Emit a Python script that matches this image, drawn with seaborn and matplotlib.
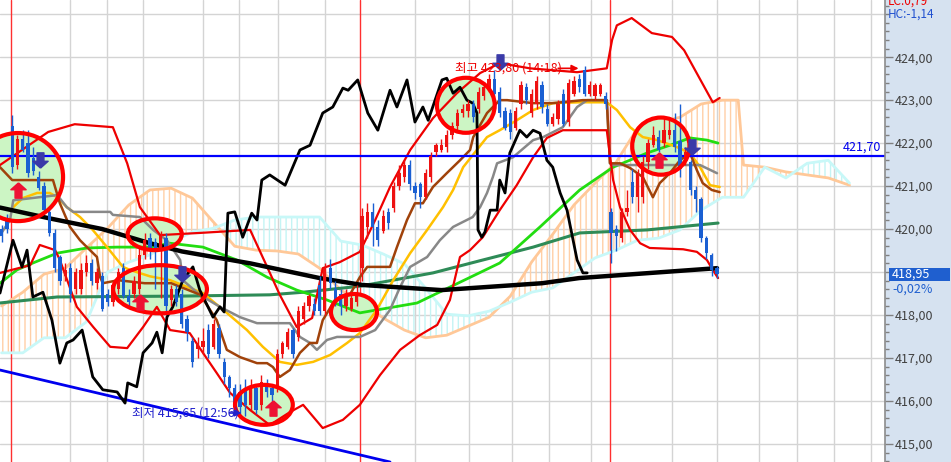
import matplotlib
matplotlib.use("Agg")
import matplotlib.pyplot as plt
from matplotlib.patches import Ellipse, Rectangle
import seaborn as sns

# ---- candles (one per bar, bar index 0..135) ----
opens = [420.0, 420.25, 422.4, 421.5, 422.1, 422.0, 421.65, 421.2, 421.0, 420.4,
         419.9, 419.35, 418.9, 419.1, 418.6, 418.6, 419.0, 419.2, 418.75, 418.9,
         418.5, 418.3, 418.6, 419.1, 418.45, 418.5, 418.6, 419.4, 419.8, 419.7,
         419.5, 419.8, 418.35, 418.6, 418.5, 417.9, 417.4, 417.2, 417.25, 417.65,
         417.25, 417.7, 416.9, 416.55, 416.3, 416.2, 416.3, 415.9, 416.3, 415.9,
         416.4, 416.3, 416.3, 417.1, 417.25, 417.65, 417.5, 417.9, 418.2, 418.25,
         418.7, 418.1, 419.1, 418.6, 418.5, 418.2, 418.15, 418.3, 419.1, 420.05,
         420.4, 420.05, 419.95, 420.4, 420.5, 421.0, 421.2, 421.5, 421.0, 421.05,
         420.75, 421.2, 421.8, 421.85, 421.9, 422.2, 422.4, 422.7, 422.75, 422.9,
         422.8, 423.1, 423.25, 423.5, 423.2, 422.75, 422.7, 422.35, 422.9, 423.3,
         422.7, 422.9, 423.35, 422.8, 422.45, 422.55, 423.15, 422.5, 423.15, 423.5,
         423.7, 423.15, 423.1, 423.15, 423.1, 420.4, 420.0, 419.8, 420.4, 421.1,
         420.75, 420.75, 421.55, 421.95, 422.15, 422.0, 422.2, 422.3, 422.05, 421.6,
         421.55, 420.9, 420.7, 419.8, 419.4, 419.1]
closes = [419.85, 420.0, 421.45, 422.1, 421.85, 421.3, 421.35, 420.95, 420.45, 419.9,
          419.1, 418.8, 419.05, 418.5, 419.0, 419.05, 419.2, 418.8, 419.0, 418.15,
          418.3, 418.7, 419.0, 418.45, 418.3, 418.8, 419.4, 419.75, 419.5, 419.5,
          419.85, 418.2, 418.6, 418.3, 417.8, 417.6, 416.9, 417.35, 417.4, 417.1,
          417.8, 417.1, 416.55, 416.3, 415.85, 415.85, 415.9, 416.35, 415.8, 416.45,
          416.2, 416.15, 417.1, 417.35, 417.6, 417.1, 418.1, 418.2, 418.45, 418.1,
          418.1, 419.1, 418.75, 418.35, 418.2, 418.5, 418.4, 418.5, 420.3, 420.4,
          420.05, 419.75, 420.3, 420.15, 421.0, 421.3, 421.5, 421.05, 420.85, 420.75,
          421.3, 421.7, 421.95, 421.95, 422.2, 422.4, 422.7, 422.8, 422.9, 422.6,
          423.2, 423.3, 423.5, 423.15, 422.7, 422.35, 422.25, 422.75, 423.35, 423.0,
          423.15, 423.45, 422.85, 422.45, 422.6, 422.9, 422.45, 423.4, 423.45, 423.3,
          423.15, 423.35, 423.35, 423.35, 422.9, 419.9, 419.85, 420.4, 420.5, 420.75,
          421.3, 421.55, 422.0, 422.2, 421.85, 422.3, 422.3, 421.9, 421.4, 421.8,
          420.9, 420.7, 419.8, 419.45, 419.05, 418.95]
highs = [420.1, 420.35, 422.65, 422.2, 422.3, 422.3, 421.9, 421.35, 421.1, 420.5,
         420.0, 419.4, 419.2, 419.2, 419.1, 419.2, 419.4, 419.3, 419.1, 419.0,
         418.6, 418.8, 419.1, 419.2, 418.6, 418.9, 419.6, 419.9, 419.9, 419.8,
         419.95, 419.9, 418.7, 418.7, 418.6, 418.0, 417.5, 417.5, 417.7, 417.8,
         417.9, 417.8, 417.0, 416.6, 416.4, 416.4, 416.5, 416.5, 416.4, 416.6,
         416.5, 416.4, 417.2, 417.4, 417.7, 417.7, 418.2, 418.3, 418.5, 418.4,
         418.9, 419.2, 419.3, 418.8, 418.6, 418.6, 418.5, 418.7, 420.5, 420.6,
         420.6, 420.2, 420.45, 420.5, 421.1, 421.5, 421.6, 421.6, 421.1, 421.1,
         421.4, 421.8, 422.0, 422.1, 422.3, 422.5, 422.8, 422.9, 423.0, 423.0,
         423.3, 423.4, 423.6, 423.7, 423.3, 422.85, 422.8, 422.85, 423.45, 423.4,
         423.25, 423.55, 423.45, 422.9, 422.7, 423.0, 423.25, 423.5, 423.55, 423.6,
         423.8, 423.45, 423.4, 423.4, 423.2, 420.5, 420.1, 420.5, 420.9, 421.4,
         421.4, 421.7, 422.1, 422.4, 422.3, 422.6, 422.6, 422.7, 422.9, 421.9,
         421.6, 421.0, 420.75, 419.85, 419.45, 419.15]
lows = [419.7, 419.9, 421.3, 421.4, 421.8, 421.2, 421.25, 420.9, 420.4, 419.85,
        419.0, 418.7, 418.8, 418.3, 418.5, 418.5, 418.9, 418.7, 418.6, 418.1,
        418.2, 418.2, 418.5, 418.4, 418.2, 418.4, 418.5, 419.3, 419.3, 418.6,
        418.4, 418.1, 418.2, 418.2, 417.7, 417.4, 416.8, 417.0, 417.1, 417.0,
        417.2, 417.0, 416.4, 416.1, 415.75, 415.7, 415.65, 415.8, 415.7, 415.8,
        416.1, 416.0, 416.2, 417.0, 417.2, 417.0, 417.4, 417.8, 418.1, 418.0,
        418.0, 418.0, 418.6, 418.2, 418.0, 418.1, 418.1, 418.2, 418.8, 419.8,
        419.6, 419.6, 419.9, 420.0, 420.4, 420.9, 421.1, 420.9, 420.7, 420.5,
        420.7, 421.1, 421.7, 421.8, 421.8, 422.1, 422.3, 422.6, 422.6, 422.5,
        422.7, 423.0, 423.2, 423.1, 422.6, 422.3, 422.1, 422.3, 422.8, 422.9,
        422.6, 422.8, 422.7, 422.4, 422.4, 422.45, 422.4, 422.4, 423.1, 423.2,
        423.1, 423.1, 423.0, 423.1, 422.8, 419.2, 419.5, 419.7, 420.3, 420.6,
        420.4, 420.6, 421.4, 421.9, 421.8, 421.9, 422.1, 421.8, 421.2, 421.5,
        420.8, 420.4, 419.7, 419.3, 418.9, 418.85]

# ---- indicator lines: (bar index, price) ----
ma_long_x = [-0.3, 9, 19, 28, 34, 47, 60, 68, 83, 102, 109, 135]
ma_long_y = [420.5, 420.25, 420.0, 419.67, 419.48, 419.2, 418.86, 418.7, 418.58, 418.74, 418.86, 419.09]

index_x = [-0.3, 2.15, 3.85, 4.8, 5.9, 7.8, 9.5, 11.0, 12.3, 13.5, 15.2, 17.2, 19.1, 21.8, 23.3,
           23.8, 25.5, 26.7, 28.4, 29.3, 30.3, 31.2, 32.3, 34.2, 36.1, 37.4, 39.9, 41.2, 42.0,
           42.7, 44.0, 45.5, 47.2, 48.2, 49.1, 50.6, 53.5, 56.3, 58.2, 60.6, 62.5, 64.4, 65.4,
           67.2, 69.1, 71.0, 73.3, 74.6, 76.5, 78.0, 79.5, 80.5, 83.1, 84.0, 85.2, 86.5, 87.8,
           88.9, 89.7, 89.9, 90.6, 91.2, 92.2, 93.5, 94.0, 95.0, 95.9, 97.8, 99.1, 100.3, 101.6,
           102.9, 104.0, 105.4, 106.7, 108.6, 109.7, 110.5]
index_y = [418.51, 419.74, 419.12, 419.51, 418.42, 418.53, 417.88, 416.88, 417.35, 417.42, 417.65,
           416.56, 416.26, 416.21, 415.95, 416.42, 416.33, 417.12, 417.35, 417.6, 417.12, 417.95,
           418.19, 418.81, 419.12, 418.58, 417.95, 418.19, 418.07, 420.37, 420.4, 419.81, 420.37,
           420.21, 421.14, 421.26, 421.02, 421.84, 421.95, 422.7, 422.84, 423.28, 423.23, 423.47,
           422.7, 422.3, 423.23, 422.84, 423.47, 422.49, 422.84, 422.53, 423.47, 423.51, 423.16,
           423.3, 423.0, 422.93, 422.7, 419.98, 419.81, 419.93, 420.44, 420.44, 421.14, 420.84,
           421.77, 422.3, 422.14, 422.3, 422.23, 421.6, 421.44, 420.84, 420.44, 419.28, 418.98,
           418.98]

ma60_x = [-0.3, 2.9, 5.9, 10.5, 16.1, 21.8, 28, 31.8, 38, 44.4, 50.1, 55.7, 61.4, 67.6, 78.4,
          84.6, 94.0, 101.6, 109.1, 115.4, 121.8, 126.1, 129.9, 133.1, 135.2]
ma60_y = [418.74, 419.05, 419.21, 419.44, 419.56, 419.58, 419.58, 419.67, 419.58, 419.28, 418.88,
          418.58, 418.35, 418.05, 418.28, 418.65, 419.21, 420.05, 420.91, 421.44, 421.77, 421.95,
          422.12, 422.07, 422.0]

ma120_x = [-0.3, 10.5, 33.7, 50.6, 56.9, 67.6, 81.4, 90.8, 100.3, 109.1, 121.8, 135.2]
ma120_y = [418.28, 418.42, 418.44, 418.47, 418.53, 418.67, 418.98, 419.28, 419.58, 419.91, 419.98, 420.14]

ma20_x = [2.2, 4.0, 6.7, 9.1, 10.5, 12.3, 14.8, 17.2, 19.9, 22.9, 24.2, 28, 31.8, 38, 42.5, 46.3,
          49.3, 52.5, 55.7, 58.8, 62, 65.2, 67.6, 70.8, 73.9, 77.1, 80.3, 83.3, 85.2, 87.1, 91.6,
          94, 97.2, 100.3, 104, 109.1, 114.2, 116.1, 118.6, 121, 123.7, 127.4, 129.9, 131.8,
          133.7, 135.5]
ma20_y = [420.51, 420.72, 420.84, 420.84, 420.74, 420.51, 420.28, 419.98, 419.58, 419.12, 419.05,
          418.9, 418.81, 418.51, 418.05, 417.65, 417.26, 416.91, 416.84, 416.91, 417.07, 417.35,
          417.58, 418.12, 418.81, 419.44, 419.98, 420.51, 420.91, 421.44, 422.14, 422.3, 422.53,
          422.77, 422.93, 422.95, 422.95, 422.77, 422.37, 422.14, 422.07, 421.91, 421.77, 421.44,
          421.02, 420.98]

ma5_x = [-0.3, 2, 9.7, 11, 12.9, 14.8, 16.1, 18, 18.6, 19.1, 22, 27, 32, 37.5, 40.6, 42.5, 45,
         48.2, 50.1, 51.2, 52.5, 54.4, 56.3, 58.2, 59.5, 60.6, 62.9, 65.7, 67.6, 69, 73.3, 74.6,
         76.5, 78, 79.5, 81.4, 84, 86.5, 88.4, 89, 91.6, 94, 95.4, 100.3, 104, 109.7, 114.2,
         114.8, 116.7, 118.6, 121, 122.9, 124.2, 126.1, 128, 129.9, 131.2, 132.3, 134, 135.5]
ma5_y = [421.44, 421.14, 421.14, 420.6, 420.05, 419.74, 419.58, 419.35, 418.88, 418.74, 418.81,
         418.74, 418.74, 418.47, 417.88, 417.19, 417.02, 416.88, 416.88, 416.79, 416.56, 416.72,
         417.12, 417.35, 417.35, 417.88, 418.35, 418.47, 418.88, 419.12, 419.12, 419.58, 420.21,
         420.6, 420.6, 420.98, 421.3, 421.6, 421.84, 422.14, 422.7, 423.0, 423.0, 422.93, 422.93,
         423.0, 423.0, 421.53, 421.53, 421.42, 421.21, 420.74, 421.07, 421.3, 421.6, 421.77,
         421.37, 421.07, 420.91, 420.86]

base_x = [-0.3, 1.6, 2.2, 10.5, 12.3, 13.5, 20.5, 21, 26.1, 28.6, 31.2, 33.7, 34.2, 37.4, 41.2,
          45, 48.2, 54.4, 56.3, 58.2, 59.5, 61.4, 63.3, 67.6, 70.5, 73.3, 75.2, 77.1, 80.3, 82.7,
          85.2, 88.9, 90.3, 91.6, 92.7, 93.5, 96.5, 100.3, 102.2, 105.9, 108.6, 110.5, 114.2,
          114.8, 115.4, 131.8, 135]
base_y = [419.86, 420.21, 420.67, 420.79, 420.51, 420.4, 420.4, 420.33, 420.28, 419.98, 419.74,
          419.28, 418.81, 418.47, 418.19, 417.95, 417.81, 417.81, 417.49, 417.35, 417.19, 417.42,
          417.49, 417.49, 417.65, 418.12, 418.65, 419.12, 419.35, 419.74, 420.05, 420.28, 420.51,
          420.84, 421.21, 421.53, 421.67, 422.07, 422.14, 422.37, 422.84, 423.0, 423.0, 421.53,
          421.49, 421.49, 421.3]

bb_up_x = [-0.3, 8.8, 13.8, 21.0, 23.7, 26.1, 29.9, 37.4, 46.9, 49.7, 52.5, 55.7, 58.6, 60.6,
           63.8, 67.6, 70.5, 73.3, 77.1, 81.4, 85.9, 90.3, 94.0, 99.7, 108.6, 114.2, 115.2, 116.1,
           118.9, 122.7, 126.5, 128.8, 134.2, 135.5]
bb_up_y = [421.49, 422.26, 422.44, 422.37, 421.53, 420.51, 419.86, 419.91, 419.98, 419.23, 418.47,
           417.72, 417.93, 419.09, 419.23, 419.47, 420.21, 420.98, 421.84, 422.58, 423.16, 423.63,
           423.86, 423.74, 423.65, 423.74, 424.4, 424.74, 424.91, 424.56, 424.47, 424.16, 422.95,
           423.05]

bb_dn_x = [-0.3, 5.4, 7.2, 10.1, 11.0, 14.2, 17.3, 20.5, 23.7, 26.7, 29.3, 31.8, 35.5, 38.0,
           40.6, 43.1, 46.9, 50.6, 54.4, 56.9, 60.6, 64.4, 67.6, 71.4, 75.2, 78.9, 82.2, 84.6,
           86.5, 88.4, 90.8, 94.0, 97.2, 100.3, 102.9, 105.9, 114.2, 115.4, 116.7, 118.6, 120.5,
           122.3, 128.6, 131.2, 133.1, 134.2, 135.2]
bb_dn_y = [418.98, 419.16, 419.63, 419.51, 419.28, 418.19, 417.72, 417.26, 417.23, 417.72, 418.19,
           417.65, 417.58, 417.12, 416.65, 416.19, 415.79, 415.44, 415.74, 415.91, 415.37, 415.56,
           415.91, 416.6, 417.19, 417.53, 417.77, 418.35, 419.35, 419.51, 419.81, 420.44, 421.02,
           421.67, 422.12, 422.3, 422.3, 421.14, 420.51, 419.98, 419.67, 419.56, 419.53, 419.47,
           419.28, 419.05, 418.86]

# cloud spans on a common bar grid (shifted 26 bars ahead)
cloud_x = [0, 4, 8, 12, 16, 20, 24, 28, 32, 36, 40, 44, 48, 52, 56, 60, 64, 68, 72, 76, 80, 84,
           88, 92, 96, 100, 104, 108, 112, 116, 120, 124, 128, 132, 136, 139, 140, 144, 148,
           152, 156, 160]
span_a = [418.21, 418.53, 418.95, 419.09, 419.56, 420.02, 420.56, 420.91, 420.95, 420.72, 420.16,
          419.6, 419.51, 419.49, 419.42, 419.09, 418.58, 418.3, 417.93, 417.65, 417.47, 417.53,
          417.74, 417.95, 418.44, 419.23, 419.88, 420.56, 421.07, 421.56, 422.35, 422.49, 422.6,
          422.91, 423.0, 423.0, 421.49, 421.44, 421.33, 421.26, 421.19, 421.02]
span_b = [417.12, 417.12, 417.47, 417.47, 417.84, 419.0, 419.23, 419.4, 419.7, 419.93, 420.02,
          420.21, 420.28, 420.28, 420.28, 420.28, 419.72, 419.63, 419.42, 419.19, 418.63, 418.02,
          417.98, 418.09, 418.3, 418.53, 418.63, 418.98, 419.33, 419.51, 419.74, 419.79, 419.98,
          420.44, 420.74, 420.74, 420.74, 421.44, 421.19, 421.53, 421.6, 421.07]

trend_x = [-0.3, 73.3]
trend_y = [416.72, 414.58]

day_breaks = [1.7, 67.6, 114.8]
ref_level = 421.70
last_price = 418.95

sns.set_style("white")
plt.rcParams['font.family'] = ['Noto Sans CJK KR', 'DejaVu Sans']
plt.rcParams['hatch.linewidth'] = 1.0

W, H = 951, 462
fig = plt.figure(figsize=(W / 100, H / 100), dpi=100)
fig.patch.set_facecolor('#d6e2f0')
ax = fig.add_axes([0, 0, 885 / W, 1])
ax.set_facecolor('white')
ax.set_xlim(-0.3, 166.7)
ax.set_ylim(414.58, 425.33)

# grid
for g in [12.9, 19.9, 26.7, 38, 44.8, 52.2, 61, 78, 88.2, 96.3, 103.3, 111.2, 126.5, 135, 143, 150, 157, 164]:
    ax.axvline(g, color='#d4d4d4', lw=1, zorder=0)
for v in range(415, 426):
    ax.axhline(v, color='#d4d4d4', lw=1, zorder=0)
for d in day_breaks:
    ax.axvline(d, color='#ff3030', lw=1, zorder=1)

# cloud
ax.plot(cloud_x, span_a, color='#ffc898', lw=2, zorder=1.2)
ax.plot(cloud_x, span_b, color='#c8f8f8', lw=2, zorder=1.2)
a_up = [a >= b for a, b in zip(span_a, span_b)]
b_up = [not u for u in a_up]
ax.fill_between(cloud_x, span_a, span_b, where=a_up, interpolate=True, facecolor='none',
                edgecolor='#ffcfa6', hatch='|||', linewidth=0, zorder=1.1)
ax.fill_between(cloud_x, span_a, span_b, where=b_up, interpolate=True, facecolor='none',
                edgecolor='#c4f4f4', hatch='|||', linewidth=0, zorder=1.1)

# highlight ellipses (fill below lines)
ellipses = [(3.1, 421.21, 17, 2.05), (28.9, 419.88, 10.2, 0.74), (29.9, 418.6, 17.7, 1.12),
            (66.5, 418.07, 8.7, 0.84), (49.5, 415.91, 10.9, 0.93), (87.6, 422.88, 10.9, 1.28),
            (124.4, 421.93, 10.8, 1.33)]
for cx, cy, w, h in ellipses:
    ax.add_patch(Ellipse((cx, cy), w, h, facecolor='#ccf5c4', edgecolor='none', zorder=1.5))

sns.lineplot(x=trend_x, y=trend_y, color='#0000ee', linewidth=2, ax=ax, sort=False, estimator=None, zorder=2)
sns.lineplot(x=ma120_x, y=ma120_y, color='#2e8b57', linewidth=2.2, ax=ax, sort=False, estimator=None, zorder=2)
sns.lineplot(x=ma60_x, y=ma60_y, color='#22dd11', linewidth=2.0, ax=ax, sort=False, estimator=None, zorder=2)
sns.lineplot(x=ma20_x, y=ma20_y, color='#ffc000', linewidth=1.8, ax=ax, sort=False, estimator=None, zorder=2)
sns.lineplot(x=base_x, y=base_y, color='#888888', linewidth=1.8, ax=ax, sort=False, estimator=None, zorder=2)
sns.lineplot(x=ma5_x, y=ma5_y, color='#a0420a', linewidth=1.8, ax=ax, sort=False, estimator=None, zorder=2)
sns.lineplot(x=bb_up_x, y=bb_up_y, color='#ee0000', linewidth=1.6, ax=ax, sort=False, estimator=None, zorder=2)
sns.lineplot(x=bb_dn_x, y=bb_dn_y, color='#ee0000', linewidth=1.6, ax=ax, sort=False, estimator=None, zorder=2)
sns.lineplot(x=ma_long_x, y=ma_long_y, color='black', linewidth=3.2, ax=ax, sort=False, estimator=None, zorder=2.2)
sns.lineplot(x=index_x, y=index_y, color='black', linewidth=2.0, ax=ax, sort=False, estimator=None, zorder=2.3)
ax.axhline(ref_level, color='#0000ff', lw=1.6, zorder=2.4)

# candles
idx = list(range(len(closes)))
up_col, dn_col = '#ee1111', '#1a5fd2'
cols = [up_col if c >= o else dn_col for o, c in zip(opens, closes)]
ax.vlines(idx, lows, highs, colors=cols, lw=1, zorder=3)
body = [max(abs(c - o), 0.04) for o, c in zip(opens, closes)]
bottom = [min(o, c) for o, c in zip(opens, closes)]
ax.bar(idx, body, bottom=bottom, width=0.62, color=cols, linewidth=0, zorder=3.1)

# ellipse outlines
for cx, cy, w, h in ellipses:
    ax.add_patch(Ellipse((cx, cy), w, h, facecolor='none', edgecolor='#ff0000', lw=3, zorder=5))

# signal arrows
arrow_up = [(0, 1), (-1, 0.1), (-0.45, 0.1), (-0.45, -1), (0.45, -1), (0.45, 0.1), (1, 0.1), (0, 1)]
arrow_dn = [(x, -y) for x, y in arrow_up]
ax.plot([3.1, 26.1, 51.2, 124.0], [420.91, 418.3, 415.84, 421.6], ls='none', marker=arrow_up,
        markersize=11, color='#ee1133', zorder=6)
ax.plot([7.2, 34.0, 94.0, 130.3], [421.6, 418.95, 423.88, 421.9], ls='none', marker=arrow_dn,
        markersize=11, color='#3a3aa8', zorder=6)

# high / low notes
ax.annotate('', xy=(109.4, 423.74), xytext=(104.5, 423.74),
            arrowprops=dict(arrowstyle='-|>', color='#ee0000', lw=1.2), zorder=7)
ax.text(85.5, 423.74, '최고 423,80 (14:18)', color='#ee0000', fontsize=9, va='center', ha='left', zorder=7)
ax.annotate('', xy=(45.8, 415.72), xytext=(42.5, 415.72),
            arrowprops=dict(arrowstyle='-|>', color='#2222cc', lw=1.2), zorder=7)
ax.text(24.6, 415.72, '최저 415,65 (12:56)', color='#2222cc', fontsize=9, va='center', ha='left', zorder=7)
ax.text(165.9, ref_level + 0.05, '421,70', color='#0000ee', fontsize=9, va='bottom', ha='right', zorder=7)

# right price axis
ax.yaxis.tick_right()
ax.set_yticks(range(415, 425))
ax.set_yticklabels([f"{v:.2f}".replace('.', ',') for v in range(415, 425)])
ax.set_yticks([415 + 0.2 * k for k in range(-2, 52)], minor=True)
ax.tick_params(axis='y', which='major', length=6, width=1, color='#808080', labelsize=9,
               labelcolor='#404040', pad=1, direction='out')
ax.tick_params(axis='y', which='minor', length=3, width=1, color='#808080', direction='out')
ax.set_xticks([])
for s in ['top', 'left', 'bottom']:
    ax.spines[s].set_visible(False)
ax.spines['right'].set_color('#8c8c8c')
ax.spines['right'].set_linewidth(1.2)
ax.set_xlabel('')
ax.set_ylabel('')

# current price box
ax.add_patch(Rectangle((1.005, last_price - 0.15), 0.068, 0.30, transform=ax.get_yaxis_transform(),
                       facecolor='#1f5fcf', edgecolor='none', clip_on=False, zorder=8))
ax.text(1.008, last_price, '418,95', transform=ax.get_yaxis_transform(), color='white', fontsize=9,
        va='center', ha='left', zorder=9, clip_on=False)
ax.text(1.008, last_price - 0.34, '-0,02%', transform=ax.get_yaxis_transform(), color='#1f5fcf',
        fontsize=9, va='center', ha='left', zorder=9, clip_on=False)
fig.text(888 / W, 1 - 1 / H, 'LC:0,79', color='#ee0000', fontsize=8.5, va='center', ha='left')
fig.text(888 / W, 1 - 14 / H, 'HC:-1,14', color='#2050d0', fontsize=8.5, va='center', ha='left')

fig.savefig('out.png', dpi=100, facecolor=fig.get_facecolor())
